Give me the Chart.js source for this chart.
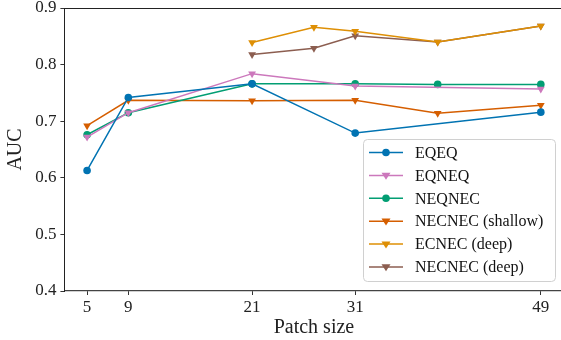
<!DOCTYPE html>
<html>
<head>
<meta charset="utf-8">
<script src="https://cdn.jsdelivr.net/npm/chart.js@4/dist/chart.umd.min.js"></script>
<style>
html,body{margin:0;padding:0;background:#fff;overflow:hidden;}
#wrap{width:561px;height:340px;position:relative;overflow:hidden;}
</style>
</head>
<body>
<div id="wrap"><canvas id="c" width="568" height="340"></canvas></div>
<script>
// ---- data ----
const xTicks = [5, 9, 21, 31, 49];
const yTicks = [0.4, 0.5, 0.6, 0.7, 0.8, 0.9];

const eqeqX = [5, 9, 21, 31, 49];
const eqeqY = [0.613, 0.742, 0.766, 0.679, 0.716];

const eqneqX = [5, 9, 21, 31, 49];
const eqneqY = [0.672, 0.715, 0.784, 0.762, 0.757];

const neqnecX = [5, 9, 21, 31, 39, 49];
const neqnecY = [0.676, 0.715, 0.766, 0.766, 0.765, 0.765];

const necnecShallowX = [5, 9, 21, 31, 39, 49];
const necnecShallowY = [0.692, 0.737, 0.736, 0.737, 0.714, 0.728];

const ecnecDeepX = [21, 27, 31, 39, 49];
const ecnecDeepY = [0.839, 0.866, 0.859, 0.840, 0.868];

const necnecDeepX = [21, 27, 31, 39, 49];
const necnecDeepY = [0.818, 0.829, 0.851, 0.840, 0.868];

const seriesLabels = ['EQEQ', 'EQNEQ', 'NEQNEC', 'NECNEC (shallow)', 'ECNEC (deep)', 'NECNEC (deep)'];

// ---- build ----
const pts = (xs, ys) => xs.map((x, i) => ({x: x, y: ys[i]}));
const colors = ['#0173b2', '#cc78bc', '#029e73', '#d55e00', '#de8f05', '#8c5e50'];
const styles = ['circle', 'triangle', 'circle', 'triangle', 'triangle', 'triangle'];
const allData = [
  pts(eqeqX, eqeqY), pts(eqneqX, eqneqY), pts(neqnecX, neqnecY),
  pts(necnecShallowX, necnecShallowY), pts(ecnecDeepX, ecnecDeepY), pts(necnecDeepX, necnecDeepY)
];

const datasets = allData.map((d, i) => ({
  label: seriesLabels[i],
  data: d,
  borderColor: colors[i],
  backgroundColor: colors[i],
  borderWidth: 1.5,
  pointStyle: styles[i],
  pointRotation: styles[i] === 'triangle' ? 180 : 0,
  pointRadius: styles[i] === 'triangle' ? 4.5 : 3.8,
  pointBorderWidth: 0,
  pointBackgroundColor: colors[i],
  pointBorderColor: colors[i],
  tension: 0,
  fill: false
}));

const FONT = "'Liberation Serif', 'DejaVu Serif', serif";

const frame = {
  id: 'frame',
  afterDatasetsDraw(chart) {
    const ctx = chart.ctx, a = chart.chartArea;
    ctx.save();
    ctx.strokeStyle = '#222';
    ctx.lineWidth = 1;
    ctx.beginPath();
    ctx.moveTo(a.left, a.top + 0.5);
    ctx.lineTo(a.right, a.top + 0.5);
    ctx.stroke();
    ctx.restore();
  },
  afterDraw(chart) {
    // legend box
    const ctx = chart.ctx;
    const bx = 363.5, by = 139.5, bw = 192, bh = 142, r = 4;
    ctx.save();
    ctx.fillStyle = 'rgba(255,255,255,0.85)';
    ctx.strokeStyle = '#d0d0d0';
    ctx.lineWidth = 1;
    ctx.beginPath();
    ctx.moveTo(bx + r, by);
    ctx.lineTo(bx + bw - r, by);
    ctx.arcTo(bx + bw, by, bx + bw, by + r, r);
    ctx.lineTo(bx + bw, by + bh - r);
    ctx.arcTo(bx + bw, by + bh, bx + bw - r, by + bh, r);
    ctx.lineTo(bx + r, by + bh);
    ctx.arcTo(bx, by + bh, bx, by + bh - r, r);
    ctx.lineTo(bx, by + r);
    ctx.arcTo(bx, by, bx + r, by, r);
    ctx.closePath();
    ctx.fill();
    ctx.stroke();
    chart.data.datasets.forEach((ds, i) => {
      const y = 152.5 + i * 22.9;
      ctx.strokeStyle = ds.borderColor;
      ctx.lineWidth = 1.5;
      ctx.beginPath();
      ctx.moveTo(369, y);
      ctx.lineTo(403, y);
      ctx.stroke();
      ctx.fillStyle = ds.borderColor;
      ctx.beginPath();
      if (ds.pointStyle === 'circle') {
        ctx.arc(386, y, 3.8, 0, Math.PI * 2);
      } else {
        const s = 4.5;
        ctx.moveTo(386 - s, y - s * 0.6);
        ctx.lineTo(386 + s, y - s * 0.6);
        ctx.lineTo(386, y + s * 0.95);
        ctx.closePath();
      }
      ctx.fill();
      ctx.fillStyle = '#111';
      ctx.font = '16px ' + FONT;
      ctx.textBaseline = 'middle';
      ctx.textAlign = 'left';
      ctx.fillText(ds.label, 415, y + 1);
    });
    ctx.restore();
  }
};

new Chart(document.getElementById('c'), {
  type: 'line',
  data: {datasets: datasets},
  options: {
    responsive: false,
    animation: false,
    layout: {padding: {top: 8, right: 0, left: 4, bottom: 0}},
    plugins: {legend: {display: false}, tooltip: {enabled: false}},
    scales: {
      x: {
        type: 'linear',
        min: 2.8,
        max: 51.2,
        afterBuildTicks(scale) { scale.ticks = xTicks.map(v => ({value: v})); },
        afterFit(scale) { scale.height = 49; },
        ticks: {
          autoSkip: false, maxRotation: 0, padding: 2,
          color: '#222', font: {family: FONT, size: 17},
          callback: v => String(v)
        },
        grid: {drawOnChartArea: false, drawTicks: true, tickLength: 4, color: '#333'},
        border: {display: true, color: '#444', width: 1.2},
        title: {display: true, text: 'Patch size', color: '#222', font: {family: FONT, size: 20}, padding: {top: 0, bottom: 0}}
      },
      y: {
        type: 'linear',
        min: 0.4,
        max: 0.9,
        afterBuildTicks(scale) { scale.ticks = yTicks.map(v => ({value: v})); },
        afterFit(scale) { scale.width = 60.4; scale.paddingTop = 0; scale.paddingBottom = 0; },
        ticks: {
          padding: 4, color: '#222', font: {family: FONT, size: 17},
          callback: v => Number(v).toFixed(1)
        },
        grid: {drawOnChartArea: false, drawTicks: true, tickLength: 4, color: '#333'},
        border: {display: true, color: '#222', width: 1},
        title: {display: true, text: 'AUC', color: '#222', font: {family: FONT, size: 20}, padding: {top: 0, bottom: 2}}
      }
    }
  },
  plugins: [frame]
});
</script>
</body>
</html>
